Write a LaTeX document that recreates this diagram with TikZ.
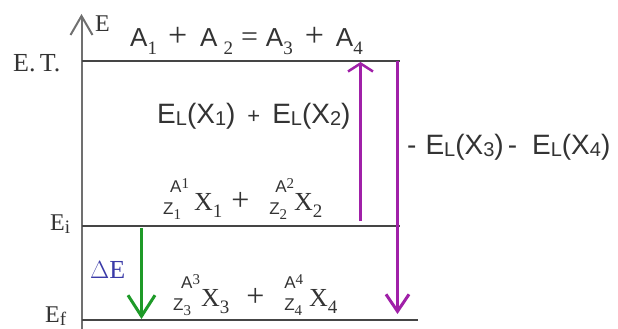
\documentclass[tikz,border=0pt]{standalone}
\usepackage{fontspec}
\setmainfont{Liberation Serif}
\newfontfamily\sansf{Liberation Sans}
\usetikzlibrary{arrows.meta}
\definecolor{txt}{HTML}{333333}
\definecolor{lvl}{HTML}{454545}
\definecolor{axc}{HTML}{707070}
\definecolor{purp}{HTML}{A020A8}
\definecolor{grn}{HTML}{1E9A28}
\definecolor{dblue}{HTML}{3A3AA8}
\newcommand\fs[1]{\fontsize{#1}{#1}\selectfont}
\newcommand\lowsub[1]{\raisebox{-0.28em}{\fs{19}#1}}
\newcommand\ssub[1]{\raisebox{-0.15em}{\fs{19}#1}}
\newcommand\elsub[1]{\raisebox{-0.1em}{\fs{20}#1}}
\newcommand\nucl[5]{% A-index, Z-index, X-index, A offset, gap
  \raisebox{-4pt}{\begin{tabular}[b]{@{}l@{}}\hspace{#4}{\sansf\fs{17}A}\raisebox{0.15em}{\fs{15}#1}\\[-4pt]{\sansf\fs{17}Z}\raisebox{-0.2em}{\fs{15}#2}\end{tabular}}%
  \hspace{#5}X\lowsub{#3}}
\tikzset{
  level/.style={draw=lvl, line width=2pt},
  axisline/.style={draw=axc, line width=2pt, -{Straight Barb[length=19pt,width=22pt,line width=2pt]}},
  serift/.style={text=txt, inner sep=0pt, font=\fs{24}},
  sanst/.style={text=txt, inner sep=0pt, font=\sansf\fs{28}},
  purparrow/.style={draw=purp, line width=2.8pt},
  grnarrow/.style={draw=grn, line width=3pt, -{Straight Barb[length=21pt,width=27pt,line width=3pt]}}
}
\begin{document}
\begin{tikzpicture}[x=1pt,y=-1pt]
\useasboundingbox[fill=white] (0,0) rectangle (618,329);
% axis
\coordinate (ab) at (81.5,330);
\coordinate (at) at (81.5,14);
\draw[axisline] (ab) -- (at);
% levels
\coordinate (t0) at (81.5,61.5); \coordinate (t1) at (400,61.5);
\coordinate (i0) at (81.5,226);  \coordinate (i1) at (400,226);
\coordinate (f0) at (81.5,320);  \coordinate (f1) at (418,320);
\draw[level] (t0) -- (t1);
\draw[level] (i0) -- (i1);
\draw[level] (f0) -- (f1);
% axis labels
\node[serift, anchor=base west] (lE) at (95,32) {E};
\node[serift, anchor=base west] (lET) at (13,71) {\fs{26}E.\,T.};
\node[serift, anchor=base west] (lEi) at (50,230) {E\ssub{i}};
\node[serift, anchor=base west] (lEf) at (45,322) {E\ssub{f}};
\node[serift, anchor=base west, text=dblue] (lDE) at (90,278) {\fs{26}$\Delta$E};
% green arrow
\coordinate (g1) at (141.5,228); \coordinate (g2) at (141.5,319);
\draw[grnarrow] (g1) -- (g2);
% purple arrows
\coordinate (p1) at (360.5,221); \coordinate (p2) at (360.5,62);
\draw[purparrow, -{Straight Barb[length=8pt,width=25pt,line width=2.5pt]}] (p1) -- (p2);
\coordinate (q1) at (397.5,61.5); \coordinate (q2) at (397.5,314);
\draw[purparrow, -{Straight Barb[length=17pt,width=23pt,line width=3pt]}] (q1) -- (q2);
% top equation
\node[serift, anchor=base west, font=\fs{26}] (eq) at (130,47) {%
  {\sansf A}\lowsub{1}\hspace{11pt}{\fs{34}+}\hspace{13pt}{\sansf A}\hspace{6pt}\lowsub{2}\hspace{8pt}{\fs{30}=}\hspace{8pt}{\sansf A}\lowsub{3}\hspace{12pt}{\fs{34}+}\hspace{12pt}{\sansf A}\lowsub{4}};
% binding energies
\node[sanst, anchor=base west] (bl) at (157,123) {E\elsub{L}(X\elsub{1})\hspace{12pt}{\fs{22}+}\hspace{12pt}E\elsub{L}(X\elsub{2})};
\node[sanst, anchor=base west] (br) at (407,154) {-\hspace{9pt}E\elsub{L}(X\elsub{3})\hspace{4pt}-\hspace{15pt}E\elsub{L}(X\elsub{4})};
% reactions
\node[serift, anchor=base west, font=\fs{26}] (r1) at (163,210) {\nucl{1}{1}{1}{7pt}{5pt}\hspace{9pt}{\fs{32}+}\hspace{20pt}\nucl{2}{2}{2}{6pt}{0pt}};
\node[serift, anchor=base west, font=\fs{26}] (r2) at (173,306) {\nucl{3}{3}{3}{8pt}{1pt}\hspace{17pt}{\fs{32}+}\hspace{20pt}\nucl{4}{4}{4}{0pt}{6pt}};
\end{tikzpicture}
\end{document}
